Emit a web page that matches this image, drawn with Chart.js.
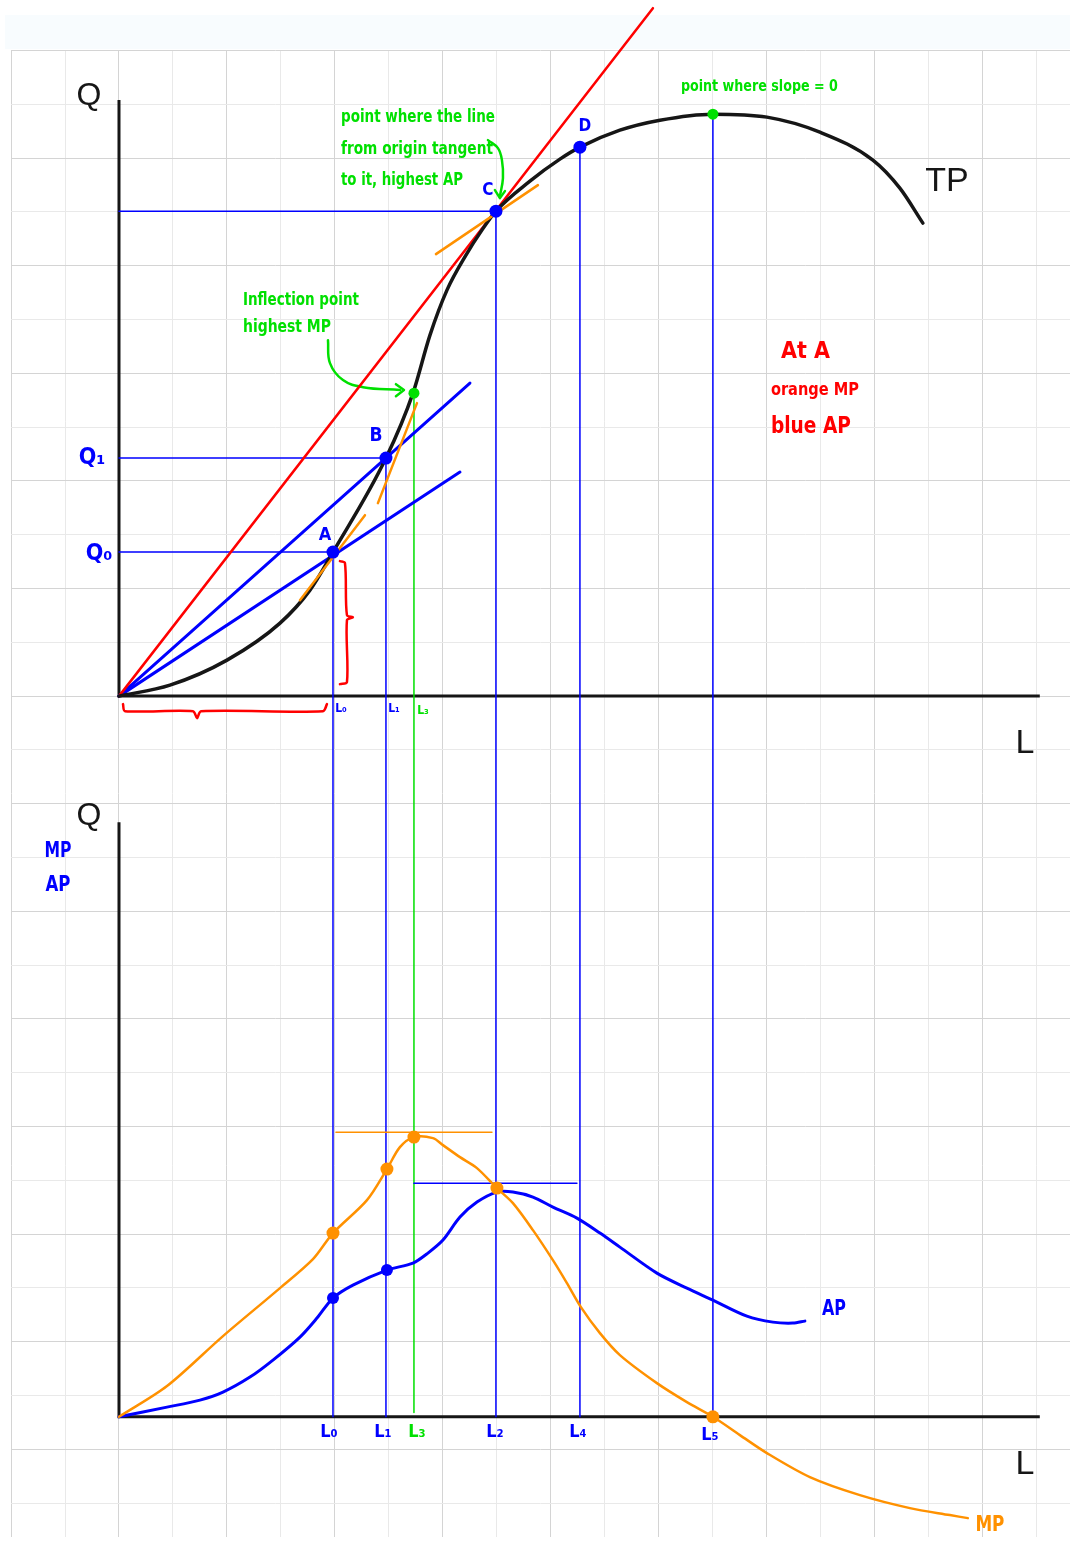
<!DOCTYPE html>
<html>
<head>
<meta charset="utf-8">
<script src="https://cdn.jsdelivr.net/npm/chart.js@4/dist/chart.umd.min.js"></script>
<style>
html,body{margin:0;padding:0;background:#fff;}
canvas{display:block;}
</style>
</head>
<body>
<canvas id="c" width="1070" height="1543"></canvas>
<script>
// ===== DATA (grid units: L to the right, Q upward; each panel has its own origin) =====
// --- Top panel: Total Product curve ---
const tpL = [0, 0.945, 2.002, 2.985, 3.540, 3.967, 4.949, 5.450, 5.765, 6.080, 6.432, 6.728, 6.988, 7.618, 8.174, 8.545, 9.286, 10.028, 11.010, 12.011, 12.993, 13.976, 14.476, 14.903];
const tpQ = [0, 0.204, 0.669, 1.357, 1.970, 2.677, 4.424, 5.632, 6.710, 7.546, 8.197, 8.662, 9.015, 9.572, 9.981, 10.204, 10.520, 10.706, 10.818, 10.762, 10.483, 9.963, 9.442, 8.792];

// labelled points on TP
const pointNames = ['A', 'B', 'C', 'D'];
const pointL = [3.967, 4.949, 6.988, 8.545];
const pointQ = [2.677, 4.424, 9.015, 10.204];
// inflection point (highest MP) and top of TP (slope = 0)
const greenL = [5.468, 11.010];
const greenQ = [5.632, 10.818];

// rays from the origin (end points)
const rayEndL = [9.898, 6.506, 6.321];   // red (tangent at C), blue via B, blue via A
const rayEndQ = [12.788, 5.818, 4.164];

// tangent (MP) segments at A, B, C
const tangentL = [[3.355, 4.560], [4.800, 5.524], [5.876, 7.766]];
const tangentQ = [[1.784, 3.364], [3.587, 5.446], [8.216, 9.498]];

// input levels dropped to the lower panel
const levelNames = ['L₀', 'L₁', 'L₃', 'L₂', 'L₄', 'L₅'];
const levelL = [3.967, 4.949, 5.468, 6.988, 8.545, 11.010];
const levelTopQ = [2.677, 4.424, 5.632, 9.015, 10.204, 10.818];

// red braces (rise and run for AP at A)
const braceRunL = [0.074, 0.111, 1.372, 1.446, 1.520, 3.781, 3.855];
const braceRunQ = [-0.149, -0.279, -0.279, -0.409, -0.279, -0.279, -0.149];
const braceRiseL = [4.096, 4.189, 4.226, 4.337, 4.226, 4.226, 4.096];
const braceRiseQ = [2.509, 2.472, 1.506, 1.468, 1.413, 0.260, 0.223];

// green arrows
const arrowCL = [6.840, 7.025, 7.099, 7.118, 7.062];
const arrowCQ = [10.335, 10.186, 9.963, 9.628, 9.294];
const arrowCHeadL = [6.969, 7.062, 7.155];
const arrowCHeadQ = [9.405, 9.257, 9.387];
const arrowIL = [3.874, 3.911, 4.152, 4.523, 5.208];
const arrowIQ = [6.617, 6.190, 5.874, 5.743, 5.688];
const arrowIHeadL = [5.134, 5.283, 5.134];
const arrowIHeadQ = [5.799, 5.688, 5.576];

// --- Bottom panel: MP and AP ---
const mpL = [0, 0.890, 1.928, 2.984, 3.596, 3.967, 4.597, 4.967, 5.208, 5.468, 5.820, 6.006, 6.321, 6.636, 7.006, 7.303, 7.674, 8.044, 8.304, 8.563, 8.916, 9.286, 9.972, 10.528, 11.010, 11.511, 12.011, 12.808, 13.735, 14.662, 15.403, 15.737];
const mpV = [0, 0.571, 1.500, 2.392, 2.931, 3.415, 4.028, 4.604, 5.013, 5.199, 5.180, 5.050, 4.827, 4.623, 4.251, 3.972, 3.470, 2.912, 2.485, 2.039, 1.555, 1.147, 0.626, 0.273, 0, -0.340, -0.675, -1.121, -1.456, -1.697, -1.827, -1.883];
const apL = [0, 0.890, 1.501, 1.928, 2.428, 2.854, 3.355, 3.670, 3.967, 4.337, 4.967, 5.450, 5.727, 6.006, 6.321, 6.636, 7.006, 7.303, 7.674, 8.044, 8.489, 8.916, 9.286, 9.972, 10.528, 11.010, 11.640, 12.122, 12.493, 12.715];
const apV = [0, 0.180, 0.310, 0.459, 0.738, 1.054, 1.482, 1.835, 2.207, 2.448, 2.727, 2.857, 3.043, 3.285, 3.712, 3.991, 4.177, 4.177, 4.084, 3.898, 3.693, 3.415, 3.154, 2.671, 2.392, 2.169, 1.872, 1.760, 1.742, 1.779];
// marked values
const mpDotL = [3.967, 4.967, 5.468, 7.006, 11.010];
const mpDotV = [3.415, 4.604, 5.199, 4.251, 0];
const apDotL = [3.967, 4.967];
const apDotV = [2.207, 2.727];
// horizontal markers at max MP and max AP
const maxLineL = [[4.022, 6.914], [5.468, 8.489]];
const maxLineV = [5.290, 4.342];

// axes extents
const axisTopQ = 11.08, axisBotQ = 11.05, axisEndL = 17.07;
const GAP = 13.396; // distance between the two L-axes in grid units

// ===== RENDERING =====
const COL = {blue:'#0000ff', orange:'#ff9100', green:'#00e000', red:'#ff0000', black:'#161616'};
const pts = (xs, ys) => xs.map((x, i) => ({x: x, y: ys[i]}));
const datasets = [];
function line(data, color, width, axis, extra) {
  datasets.push(Object.assign({data: data, showLine: true, borderColor: color, backgroundColor: color,
    borderWidth: width, pointRadius: 0, yAxisID: axis || 'y', clip: false, tension: 0, fill: false,
    borderCapStyle: 'round', borderJoinStyle: 'round'}, extra || {}));
}
function dots(data, color, r, axis) {
  datasets.push({data: data, showLine: false, pointRadius: r, pointHoverRadius: r, pointBackgroundColor: color,
    pointBorderWidth: 0, borderColor: color, yAxisID: axis || 'y', clip: false});
}

// dots (on top)
dots(pts(pointL, pointQ), COL.blue, 6.5);
dots(pts(greenL, greenQ), COL.green, 5.5);
dots(pts(mpDotL, mpDotV), COL.orange, 6.5, 'y2');
dots(pts(apDotL, apDotV), COL.blue, 6, 'y2');
// tangents
tangentL.forEach((xs, i) => line(pts(xs, tangentQ[i]), COL.orange, 2.5));
// TP curve
line(pts(tpL, tpQ), COL.black, 3.5, 'y', {cubicInterpolationMode: 'monotone'});
// rays
line([{x:0, y:0}, {x:rayEndL[0], y:rayEndQ[0]}], COL.red, 2.5);
line([{x:0, y:0}, {x:rayEndL[1], y:rayEndQ[1]}], COL.blue, 3);
line([{x:0, y:0}, {x:rayEndL[2], y:rayEndQ[2]}], COL.blue, 3);
// MP / AP curves
line(pts(mpL, mpV), COL.orange, 2.5, 'y2', {tension: 0.3});
line(pts(apL, apV), COL.blue, 3, 'y2', {tension: 0.3});
// max markers
line(pts(maxLineL[0], [maxLineV[0], maxLineV[0]]), COL.orange, 1.5, 'y2');
line(pts(maxLineL[1], [maxLineV[1], maxLineV[1]]), COL.blue, 1.5, 'y2');
// braces
line(pts(braceRunL, braceRunQ), COL.red, 2.5, 'y', {tension: 0.3});
line(pts(braceRiseL, braceRiseQ), COL.red, 2.5, 'y', {tension: 0.3});
// green arrows
line(pts(arrowCL, arrowCQ), COL.green, 2.5, 'y', {tension: 0.4});
line(pts(arrowCHeadL, arrowCHeadQ), COL.green, 2.5);
line(pts(arrowIL, arrowIQ), COL.green, 2.5, 'y', {tension: 0.4});
line(pts(arrowIHeadL, arrowIHeadQ), COL.green, 2.5);
// Q guide lines to the vertical axis (A, B, C)
[0, 1, 2].forEach(i => line([{x:0, y:pointQ[i]}, {x:pointL[i], y:pointQ[i]}], COL.blue, 1.5));
// vertical drop lines down to the lower L-axis
levelL.forEach((L, i) => {
  const isGreen = levelNames[i] === 'L₃';
  line([{x:L, y:levelTopQ[i]}, {x:L, y:isGreen ? -GAP + 0.08 : -GAP}], isGreen ? COL.green : COL.blue, 1.5);
});
// axes
line([{x:0, y:axisTopQ}, {x:0, y:0}, {x:axisEndL, y:0}], COL.black, 3, 'y', {borderCapStyle:'butt', borderJoinStyle:'miter'});
line([{x:0, y:axisBotQ}, {x:0, y:0}, {x:axisEndL, y:0}], COL.black, 3, 'y2', {borderCapStyle:'butt', borderJoinStyle:'miter'});

// ===== TEXT (positions in grid units of the panel) =====
const HAND = '"DejaVu Sans Condensed", "Liberation Sans Narrow", sans-serif';
const SANS = '"Liberation Sans", Arial, sans-serif';
const notes = [
  {t:'point where the line', x:4.115, y:10.762, c:COL.green, f:'bold 17px ' + HAND, a:'left', w:154},
  {t:'from origin tangent', x:4.115, y:10.167, c:COL.green, f:'bold 17px ' + HAND, a:'left', w:152},
  {t:'to it, highest AP', x:4.115, y:9.591, c:COL.green, f:'bold 17px ' + HAND, a:'left', w:122},
  {t:'Inflection point', x:2.298, y:7.361, c:COL.green, f:'bold 17px ' + HAND, a:'left', w:116},
  {t:'highest MP', x:2.298, y:6.859, c:COL.green, f:'bold 17px ' + HAND, a:'left', w:88},
  {t:'point where slope = 0', x:10.417, y:11.320, c:COL.green, f:'bold 16px ' + HAND, a:'left', w:157},
  {t:'At A', x:12.271, y:6.394, c:COL.red, f:'bold 23px ' + HAND, a:'left', w:49},
  {t:'orange MP', x:12.085, y:5.688, c:COL.red, f:'bold 18px ' + HAND, a:'left', w:88},
  {t:'blue AP', x:12.085, y:5.000, c:COL.red, f:'bold 23px ' + HAND, a:'left', w:80},
  {t:'A', x:3.818, y:2.993, c:COL.blue, f:'bold 18px ' + HAND},
  {t:'B', x:4.764, y:4.833, c:COL.blue, f:'bold 19px ' + HAND},
  {t:'C', x:6.840, y:9.405, c:COL.blue, f:'bold 17px ' + HAND},
  {t:'D', x:8.638, y:10.595, c:COL.blue, f:'bold 17px ' + HAND},
  {t:'Q₁', x:-0.500, y:4.424, c:COL.blue, f:'bold 23px ' + HAND, w:28},
  {t:'Q₀', x:-0.371, y:2.639, c:COL.blue, f:'bold 23px ' + HAND, w:27},
  {t:'Q', x:-0.556, y:11.152, c:COL.black, f:'32px ' + SANS},
  {t:'TP', x:15.347, y:9.572, c:COL.black, f:'34px ' + SANS},
  {t:'L', x:16.793, y:-0.874, c:COL.black, f:'34px ' + SANS},
  {t:'L₀', x:4.115, y:-0.242, c:COL.blue, f:'bold 12px ' + HAND},
  {t:'L₁', x:5.097, y:-0.242, c:COL.blue, f:'bold 12px ' + HAND},
  {t:'L₃', x:5.635, y:-0.279, c:COL.green, f:'bold 12px ' + HAND},
  // bottom panel
  {t:'Q', x:-0.556, y:11.165, c:COL.black, f:'32px ' + SANS, p:'b'},
  {t:'MP', x:-1.131, y:10.515, c:COL.blue, f:'bold 21px ' + HAND, w:27, p:'b'},
  {t:'AP', x:-1.131, y:9.883, c:COL.blue, f:'bold 21px ' + HAND, w:25, p:'b'},
  {t:'L', x:16.793, y:-0.898, c:COL.black, f:'34px ' + SANS, p:'b'},
  {t:'AP', x:13.253, y:2.002, c:COL.blue, f:'bold 21px ' + HAND, w:24, p:'b'},
  {t:'MP', x:16.145, y:-2.013, c:COL.orange, f:'bold 21px ' + HAND, w:29, p:'b'}
];
levelNames.forEach((n, i) => {
  const dx = [-0.075, -0.055, 0.056, -0.019, -0.037, -0.055][i];
  notes.push({t:n, x:levelL[i] + dx, y:n === 'L₅' ? -0.340 : -0.295, c:n === 'L₃' ? COL.green : COL.blue,
    f:'bold 18px ' + HAND, p:'b'});
});

const notesPlugin = {
  id: 'notes',
  afterDatasetsDraw(chart) {
    const {ctx, scales} = chart;
    ctx.save();
    notes.forEach(n => {
      const px = scales.x.getPixelForValue(n.x);
      const py = (n.p === 'b' ? scales.y2 : scales.y).getPixelForValue(n.y);
      ctx.font = n.f;
      ctx.fillStyle = n.c;
      ctx.textAlign = n.a || 'center';
      ctx.textBaseline = 'middle';
      if (n.w) ctx.fillText(n.t, px, py, n.w); else ctx.fillText(n.t, px, py);
    });
    ctx.restore();
  }
};
const bandPlugin = {
  id: 'band',
  beforeDraw(chart) {
    const c = chart.ctx;
    c.save();
    c.fillStyle = '#f8fcfe';
    c.fillRect(5, 15, 1065, 34);
    c.restore();
  }
};

// grid: x from -2 .. 17, y from -15 .. 12 (integer grid units)
const xMin = -2.002, xMax = 17.63, yMin = -15.63, yMax = 12.01;
const gridColor = ctx => (ctx.tick && Math.round(ctx.tick.value) % 2 === 0) ? '#d4d4d4' : '#e9e9e9';
const intTicks = (a, b) => { const t = []; for (let v = a; v <= b; v++) t.push({value: v}); return t; };

new Chart(document.getElementById('c'), {
  type: 'scatter',
  data: {datasets: datasets},
  options: {
    responsive: false,
    animation: false,
    devicePixelRatio: 1,
    events: [],
    layout: {autoPadding: false, padding: {left: 11, top: 50, right: 0, bottom: 6}},
    plugins: {legend: {display: false}, tooltip: {enabled: false}},
    scales: {
      x: {type: 'linear', min: xMin, max: xMax, ticks: {display: false},
          grid: {color: gridColor, drawTicks: false, lineWidth: 1}, border: {display: false},
          afterBuildTicks: s => { s.ticks = intTicks(-2, 17); }},
      y: {type: 'linear', min: yMin, max: yMax, ticks: {display: false},
          grid: {color: gridColor, drawTicks: false, lineWidth: 1}, border: {display: false},
          afterBuildTicks: s => { s.ticks = intTicks(-15, 12); }},
      y2: {type: 'linear', display: false, min: yMin + GAP, max: yMax + GAP}
    }
  },
  plugins: [bandPlugin, notesPlugin]
});
</script>
</body>
</html>
